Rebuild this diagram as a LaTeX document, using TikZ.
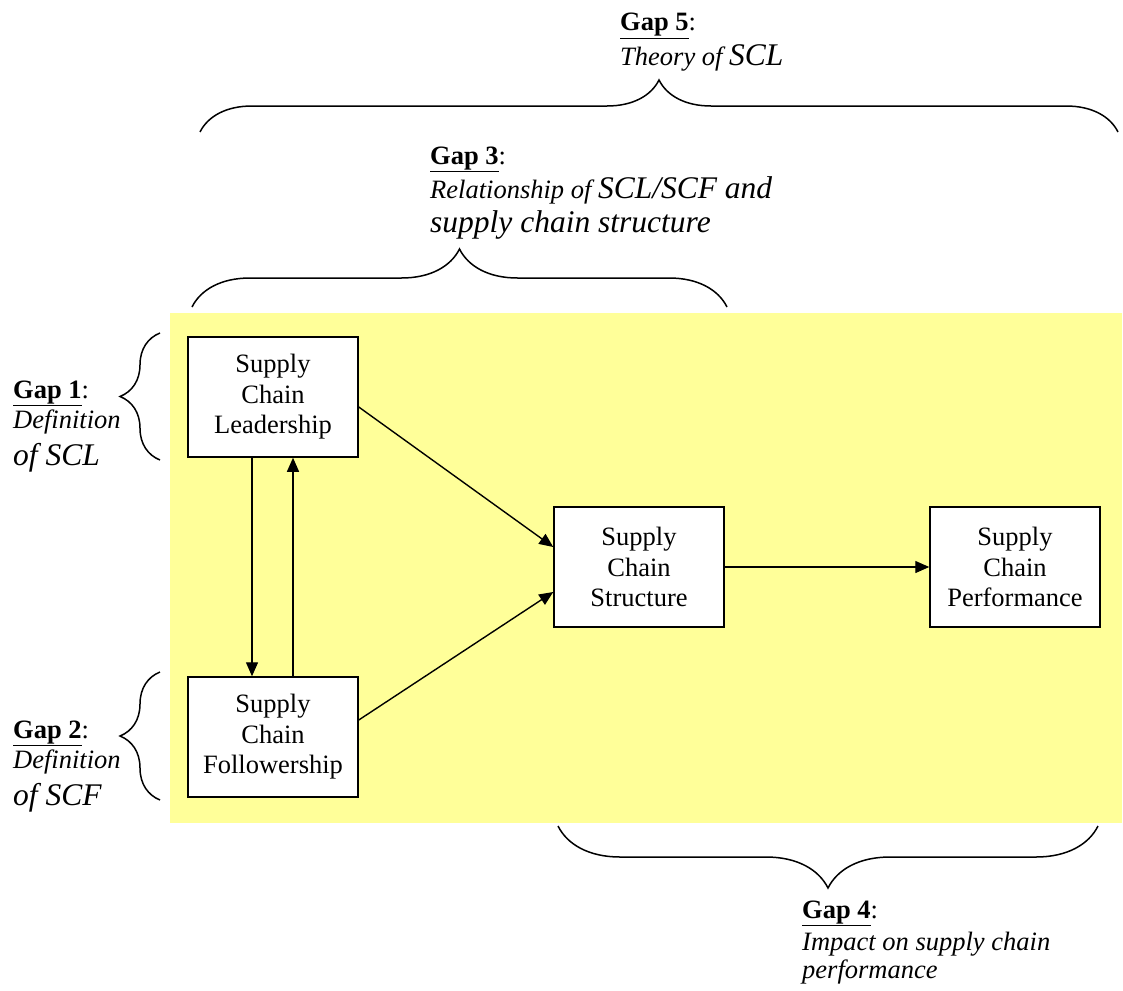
\documentclass[tikz,border=0pt]{standalone}
\usepackage{fontspec}
\setmainfont{Liberation Serif}
\usetikzlibrary{decorations.pathreplacing,arrows.meta}
\definecolor{paleyellow}{HTML}{FFFF99}
\newcommand{\gaphead}[1]{\underline{\textbf{Gap #1}}:}
\newcommand{\bigit}[1]{{\fontsize{31.5}{34}\selectfont #1}}

\begin{document}
\begin{tikzpicture}[x=1pt,y=-1pt,
  block/.style={draw,line width=1.5pt,fill=white,minimum width=170pt,minimum height=120pt,
    align=center,inner sep=0pt,font=\fontsize{26.5}{30.5}\selectfont},
  gaptext/.style={anchor=base west,align=left,inner sep=0pt,font=\fontsize{26.5}{34}\selectfont},
  curly/.style={decorate,line width=1.5pt,decoration={brace,amplitude=#1}},
  link/.style={line width=1.4pt,-{Triangle[length=14pt,width=12pt]}}]
  \useasboundingbox (0,0) rectangle (1123,990);
  \fill[paleyellow] (170,313) rectangle (1122,823);

  \node[block] (lead) at (273,397) {Supply\\Chain\\Leadership};
  \node[block] (follow) at (273,737) {Supply\\Chain\\Followership};
  \node[block] (struct) at (639,567) {Supply\\Chain\\Structure};
  \node[block] (perf) at (1015,567) {Supply\\Chain\\Performance};

  \draw[link] ([xshift=-21pt]lead.south) -- ([xshift=-21pt]follow.north);
  \draw[link] ([xshift=20pt]follow.north) -- ([xshift=20pt]lead.south);
  \draw[link] ([yshift=-10pt]lead.east) -- ([yshift=20pt]struct.west);
  \draw[link] ([yshift=17pt]follow.east) -- ([yshift=-25pt]struct.west);
  \draw[link] (struct) -- (perf);

  \draw[curly=52pt] (200,132) -- (1118,132);
  \draw[curly=58pt] (192,307) -- (727,307);
  \draw[curly=40pt] (160,460) -- (160,333);
  \draw[curly=40pt] (160,800) -- (160,672);
  \draw[curly=62pt] (1098,826) -- (558,826);

  \node[gaptext] (gapfive) at (620,65) {\gaphead{5}\\\textit{Theory of \bigit{SCL}}};
  \node[gaptext] (gapthree) at (430,232) {\gaphead{3}\\\textit{Relationship of \bigit{SCL/SCF and}}\\\textit{\bigit{supply chain structure}}};
  \node[gaptext] (gapone) at (13,465) {\gaphead{1}\\[-4pt]\textit{Definition}\\[3pt]\textit{\bigit{of SCL}}};
  \node[gaptext] (gaptwo) at (13,805) {\gaphead{2}\\[-4pt]\textit{Definition}\\[3pt]\textit{\bigit{of SCF}}};
  \node[gaptext] (gapfour) at (802,978) {\gaphead{4}\\[-2pt]\textit{Impact on supply chain}\\[-6pt]\textit{performance}};
\end{tikzpicture}
\end{document}
